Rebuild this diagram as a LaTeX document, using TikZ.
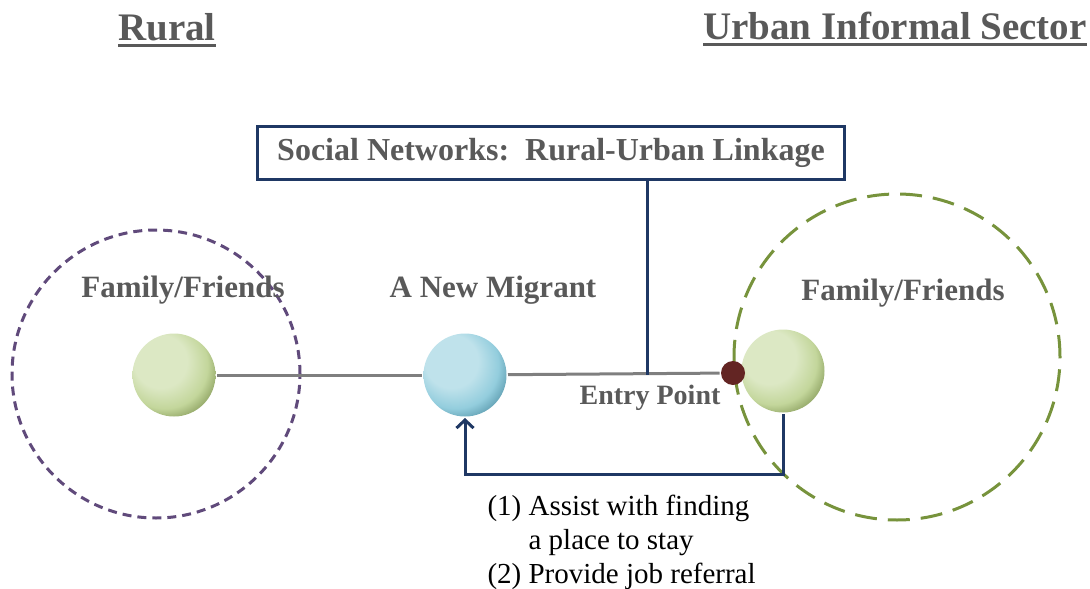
\documentclass[tikz,border=0pt]{standalone}
\usepackage{fontspec}
\setmainfont{Liberation Serif}
\usetikzlibrary{
	arrows.meta,
	positioning,
}
\definecolor{headgray}{HTML}{595959}
\definecolor{linkgray}{HTML}{7F7F7F}
\definecolor{navy}{HTML}{1F3864}
\definecolor{ruralpurple}{HTML}{604A7B}
\definecolor{urbangreen}{HTML}{77933C}
\definecolor{entryred}{HTML}{632523}
\definecolor{greenlight}{HTML}{DCE8C4}
\definecolor{greenmid}{HTML}{C3D69B}
\definecolor{greendark}{HTML}{5F7530}
\definecolor{bluelight}{HTML}{BFE2EB}
\definecolor{bluemid}{HTML}{93CDDD}
\definecolor{bluedark}{HTML}{31748A}
% light in the upper left, dark in the lower right
\pgfdeclareradialshading{greenball}{\pgfpoint{-12bp}{12bp}}{%
	color(0bp)=(greenlight); color(16bp)=(greenlight);
	color(26bp)=(greenmid); color(38bp)=(greendark); color(50bp)=(greendark)}
\pgfdeclareradialshading{blueball}{\pgfpoint{-12bp}{12bp}}{%
	color(0bp)=(bluelight); color(16bp)=(bluelight);
	color(26bp)=(bluemid); color(38bp)=(bluedark); color(50bp)=(bluedark)}
% thick rule under a heading
\newcommand\headrule[1]{\setbox0\hbox{#1}\rlap{\rule[-7pt]{\wd0}{3.5pt}}\box0}
\tikzset{heading/.style={
		% the text
		text=headgray,font=\fontsize{39}{40}\selectfont\bfseries,
		inner sep=0pt,
}}
\tikzset{label/.style={
		text=headgray,font=\fontsize{31}{34}\selectfont\bfseries,
		inner sep=0pt,
}}
\tikzset{person/.style={
		% The shape:
		circle,inner sep=0pt,
		% The size:
		minimum size=83pt,
}}
\tikzset{circle of/.style={
		% a dashed ring round a group
		circle,inner sep=0pt,line width=3pt,draw=#1,
}}

\begin{document}
\begin{tikzpicture}[x=1pt,y=-1pt,line width=3pt]
	\useasboundingbox (0,0) rectangle (1090,589);
	% headings
	\node[heading] (rural) at (167,30) {\headrule{Rural}};
	\node[heading] (urban) at (895,29) {\headrule{Urban Informal Sector}};
	% the groups
	\node[circle of=ruralpurple, dash pattern=on 9pt off 6pt,
		minimum size=288pt] (ruralring) at (156,374) {};
	\node[circle of=urbangreen, dash pattern=on 22pt off 11pt,
		minimum size=326pt] (urbanring) at (897,357) {};
	% the people
	\node[person, shading=greenball] (ffl) at (174,375) {};
	\node[person, shading=blueball] (migrant) at (465,375) {};
	\node[person, shading=greenball] (ffr) at (783,371) {};
	\node[circle,inner sep=0pt,minimum size=24pt,fill=entryred] (dot) at (733,373) {};
	\coordinate (link) at (647,375);
	% the texts
	\node[label] (ffltext) at (183,290) {Family/Friends};
	\node[label] (migranttext) at (493,290) {A New Migrant};
	\node[label] (ffrtext) at (903,293) {Family/Friends};
	\node[label,font=\fontsize{28}{30}\selectfont\bfseries] (entry) at (650,398) {Entry Point};
	\node[draw=navy,line width=2.5pt,minimum width=587pt,minimum height=53pt,
		text=headgray,font=\fontsize{32}{34}\selectfont\bfseries] (network) at (551,153)
		{Social Networks:\ \ Rural-Urban Linkage};
	\node[anchor=north west,inner sep=0pt,font=\fontsize{29}{34}\selectfont] (help) at (486,490)
		{\begin{tabular}{@{}l@{\ }l}(1)&Assist with finding\\&a place to stay\\(2)&Provide job referral\end{tabular}};
	% connectors
	\draw[linkgray] (ffl) -- (migrant);
	\draw[linkgray] (migrant) -- (dot);
	\draw[navy] (network.south -| link) -- (link);
	\draw[navy,-{Straight Barb[length=8pt,width=17pt]}] (ffr.south) -- ++(0,60) -| (migrant.south);
\end{tikzpicture}
\end{document}
